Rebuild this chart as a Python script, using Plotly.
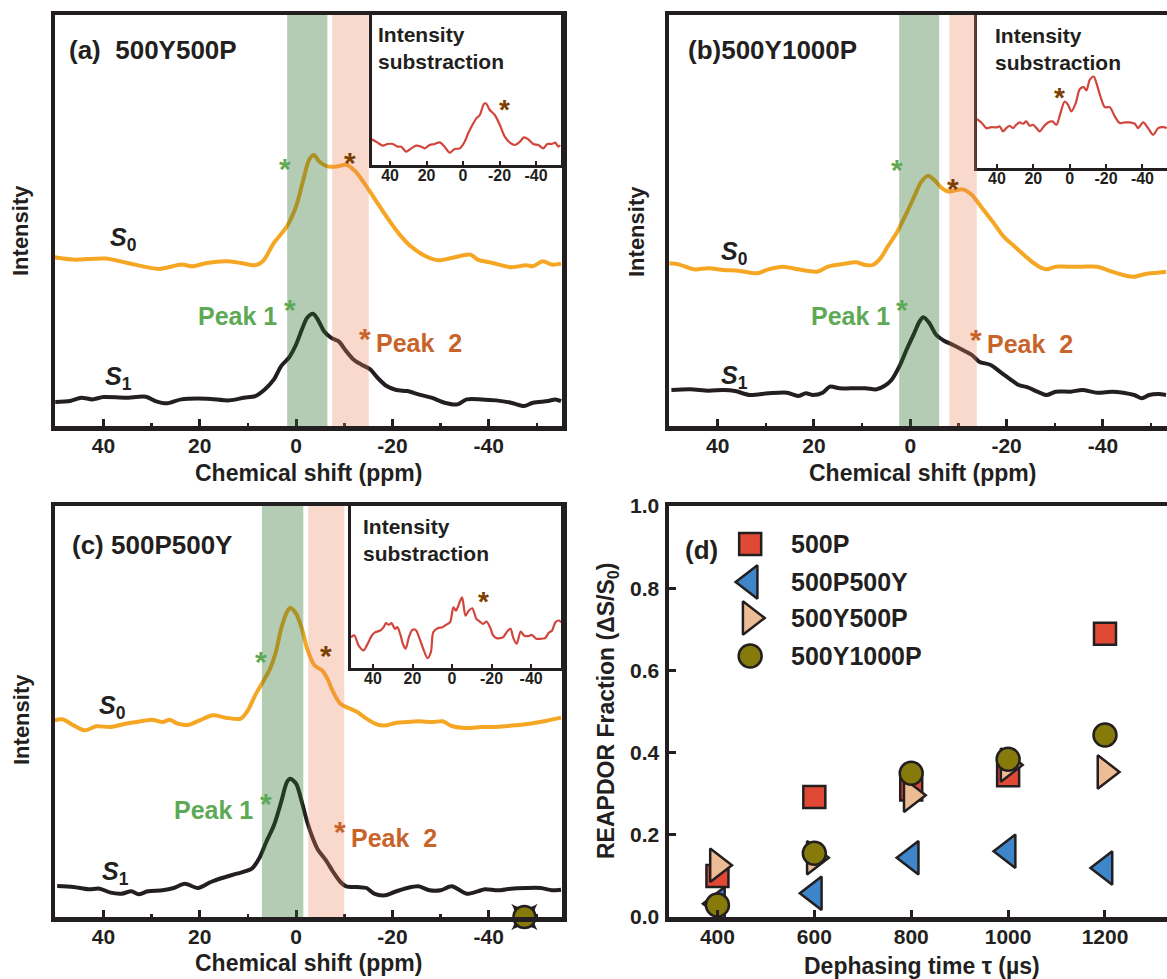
import plotly.graph_objects as go

# ---------------- data ----------------
# panel (a) 500Y500P
a_s0_ppm = [50.2, 46.2, 39.6, 35.0, 28.5, 23.8, 21.5, 18.5, 14.6, 11.5, 8.5, 6.9, 4.6, 1.9, 0.0, -1.5, -2.7, -3.7, -4.8, -6.5,
            -8.5, -10.4, -12.3, -14.6, -16.9, -19.2, -21.5, -23.8, -26.9, -29.6, -32.3, -36.2, -37.7, -40.8, -44.6, -47.7,
            -49.2, -51.2, -53.1, -55.0]
a_s0_int = [50.7, 50.0, 50.3, 49.0, 47.2, 48.5, 48.0, 49.0, 49.5, 49.0, 48.3, 49.5, 55.0, 60.0, 66.0, 74.0, 80.0, 81.4, 79.5, 78.0,
            78.0, 78.5, 76.5, 72.0, 67.0, 62.0, 57.5, 54.0, 51.0, 49.8, 50.5, 51.5, 50.0, 49.0, 47.7, 48.3, 48.0, 49.5, 48.5, 48.8]
a_s1_ppm = [50.0, 46.9, 44.6, 42.3, 40.0, 35.4, 31.2, 29.2, 26.9, 23.8, 18.5, 13.8, 10.8, 8.5, 6.5, 4.6, 3.1, 1.5, 0.0, -1.2,
            -2.3, -3.5, -4.5, -5.8, -7.3, -8.8, -10.4, -11.9, -13.5, -15.4, -16.9, -18.8, -20.8, -23.1, -25.4, -28.1, -30.8,
            -33.5, -35.4, -38.5, -41.5, -44.6, -47.3, -49.2, -52.3, -53.8, -55.0]
a_s1_int = [7.2, 7.5, 8.5, 8.0, 8.7, 8.5, 8.8, 7.5, 6.8, 8.0, 8.2, 7.7, 8.5, 9.0, 11.0, 14.0, 18.0, 20.5, 24.5, 29.0,
            32.5, 33.7, 32.0, 28.5, 26.5, 25.5, 22.5, 20.0, 18.5, 17.0, 14.5, 12.0, 10.8, 10.5, 9.5, 8.5, 7.0, 6.5, 8.0, 8.0,
            7.7, 7.0, 6.0, 7.0, 7.5, 8.0, 7.5]
a_diff_ppm = [50.1, 46.8, 44.0, 41.3, 38.5, 35.8, 33.9, 31.2, 28.4, 25.7, 22.9, 21.1, 18.3, 15.6, 12.8, 10.1, 7.3, 4.6, 1.8, -0.9,
              -2.8, -4.6, -7.3, -9.2, -11.4, -12.5, -14.7, -17.4, -20.2, -22.9, -25.7, -28.4, -31.2, -33.4, -35.8, -38.5,
              -41.3, -44.0, -46.2, -48.6, -50.5, -52.3, -53.2]
a_diff_int = [7.7, 6.7, 5.8, 6.3, 6.3, 5.5, 5.5, 4.0, 5.0, 5.8, 5.5, 5.0, 6.0, 6.3, 6.8, 5.5, 3.7, 4.8, 5.0, 7.0,
              9.5, 11.5, 14.0, 15.0, 18.3, 18.5, 16.5, 15.0, 12.0, 8.5, 6.7, 6.0, 7.0, 8.3, 7.7, 6.3, 6.0, 5.0, 6.3, 6.3,
              6.7, 5.5, 6.0]

# panel (b) 500Y1000P
b_s0_ppm = [50.0, 48.1, 45.0, 41.9, 38.8, 35.7, 31.8, 29.5, 26.4, 23.3, 19.4, 17.1, 14.0, 11.2, 9.3, 7.8, 6.2, 4.7, 2.7, 0.8,
            -0.8, -2.3, -3.7, -5.0, -6.6, -8.1, -9.7, -10.9, -12.8, -14.7, -17.1, -19.4, -21.7, -24.0, -26.4, -28.3, -30.2,
            -32.6, -35.7, -38.8, -41.9, -45.0, -46.5, -48.8, -51.2, -53.1]
b_s0_int = [48.8, 48.5, 47.0, 47.3, 46.8, 46.6, 45.8, 47.0, 47.8, 47.0, 46.3, 47.8, 48.6, 49.1, 48.3, 48.3, 50.3, 53.8, 58.3, 63.8,
            68.8, 73.3, 75.1, 73.8, 71.3, 70.3, 70.8, 71.0, 69.3, 65.8, 61.3, 56.8, 53.8, 50.8, 48.1, 47.0, 47.8, 47.8, 47.8,
            47.8, 46.3, 45.0, 44.8, 45.6, 46.0, 46.3]
b_s1_ppm = [49.6, 45.7, 41.9, 38.8, 36.4, 33.3, 29.5, 25.6, 23.3, 21.7, 20.2, 18.2, 16.7, 14.7, 12.4, 9.3, 7.0, 5.4, 3.9, 2.3,
            0.8, -0.8, -1.9, -2.7, -3.9, -5.4, -7.0, -8.9, -10.9, -12.8, -14.3, -16.7, -18.6, -20.5, -22.5, -24.4, -26.4,
            -28.3, -30.2, -33.3, -35.7, -38.8, -41.9, -44.2, -46.5, -48.1, -49.6, -51.6, -53.1]
b_s1_int = [10.8, 11.0, 10.6, 10.8, 10.5, 9.3, 9.8, 10.0, 9.0, 9.8, 9.3, 10.0, 11.8, 11.3, 11.3, 11.3, 11.0, 12.0, 13.8, 17.8,
            22.8, 27.8, 31.3, 32.6, 31.0, 27.3, 25.6, 24.3, 22.8, 21.3, 19.3, 18.3, 16.3, 14.3, 12.3, 11.6, 10.3, 9.3, 10.3,
            10.3, 10.8, 10.0, 10.3, 10.0, 9.3, 8.3, 9.3, 9.6, 9.3]
b_diff_ppm = [51.0, 48.6, 45.9, 43.1, 40.4, 38.5, 36.7, 34.9, 33.0, 31.2, 29.4, 27.5, 25.7, 23.9, 22.0, 20.2, 18.3, 16.5, 14.3,
              11.9, 9.5, 7.3, 5.1, 2.8, 0.9, -0.9, -3.3, -5.5, -7.7, -9.2, -11.0, -13.2, -14.7, -16.9, -19.3, -22.0, -24.8,
              -27.5, -30.3, -33.0, -35.8, -37.6, -40.4, -43.1, -45.9, -48.6, -51.4, -53.4]
b_diff_int = [14.7, 13.7, 12.0, 12.3, 12.2, 12.5, 11.0, 12.0, 12.7, 12.0, 13.0, 13.7, 13.3, 14.0, 12.7, 13.0, 12.0, 11.0, 12.5,
              13.7, 14.0, 13.0, 16.5, 20.0, 19.0, 17.0, 19.5, 23.7, 24.3, 23.3, 26.5, 27.5, 25.5, 21.5, 18.3, 18.3, 15.5,
              13.5, 13.7, 13.7, 13.3, 12.0, 13.7, 12.0, 10.0, 12.0, 12.3, 12.0]

# panel (c) 500P500Y
c_s0_ppm = [50.2, 48.5, 46.2, 43.8, 41.5, 38.5, 35.4, 33.1, 30.0, 27.7, 26.2, 24.6, 22.3, 20.0, 17.3, 14.6, 11.5, 10.0, 8.5, 6.9,
            5.4, 4.2, 3.1, 1.9, 1.2, 0.0, -1.2, -2.3, -3.8, -5.4, -6.5, -7.7, -9.2, -11.2, -12.7, -14.6, -16.9, -18.8, -20.8,
            -23.1, -25.4, -28.5, -30.4, -32.3, -35.4, -38.5, -41.5, -45.4, -48.5, -51.5, -55.0]
c_s0_int = [59.0, 59.3, 57.5, 56.0, 57.2, 57.0, 58.0, 58.5, 59.2, 58.5, 59.2, 58.0, 57.7, 59.0, 60.5, 59.8, 59.5, 62.0, 66.5, 70.5,
            74.5, 79.5, 86.5, 91.5, 92.7, 91.0, 86.5, 80.5, 75.5, 74.0, 71.5, 67.5, 64.0, 62.5, 61.5, 59.5, 57.7, 57.5, 58.3,
            58.5, 58.7, 58.5, 58.7, 57.3, 56.7, 57.0, 57.0, 57.5, 58.0, 58.7, 59.8]
c_s1_ppm = [49.6, 46.2, 43.1, 40.8, 38.5, 36.2, 34.2, 32.7, 30.8, 27.7, 25.4, 23.1, 20.4, 17.7, 15.4, 12.3, 9.2, 7.7, 6.2, 4.6,
            3.1, 1.9, 1.2, 0.0, -1.2, -2.3, -3.5, -4.6, -6.2, -7.7, -9.2, -10.4, -12.7, -14.6, -16.2, -18.5, -20.4, -23.1,
            -25.4, -27.7, -30.0, -32.3, -35.4, -37.7, -39.2, -41.9, -44.6, -47.7, -50.8, -53.1, -55.0]
c_s1_int = [9.3, 9.0, 8.3, 8.5, 7.3, 7.0, 7.7, 6.8, 7.7, 8.0, 8.7, 10.0, 8.7, 10.5, 11.7, 13.0, 14.5, 17.5, 22.5, 27.5,
            34.5, 40.5, 41.5, 40.0, 34.5, 28.5, 23.5, 20.0, 17.0, 13.5, 10.5, 9.2, 9.0, 8.7, 7.0, 6.5, 7.5, 8.7, 9.2, 8.0,
            8.0, 9.2, 7.0, 7.7, 8.3, 8.0, 8.5, 8.7, 8.7, 8.0, 8.2]
c_diff_ppm = [51.1, 49.4, 47.3, 44.8, 43.1, 40.5, 38.8, 36.3, 34.6, 33.4, 32.0, 30.6, 28.9, 27.7, 26.0, 24.9, 23.5, 21.8, 20.1,
              18.4, 16.7, 14.6, 12.4, 10.7, 9.5, 7.3, 4.8, 3.1, 1.0, -0.7, -2.0, -3.8, -5.1, -6.8, -8.5, -10.2, -12.3, -14.0,
              -15.7, -17.4, -19.4, -20.8, -22.5, -24.2, -25.9, -27.6, -29.6, -31.0, -32.7, -34.7, -36.4, -38.6, -40.3,
              -42.6, -44.6, -47.1, -48.9, -50.6, -52.3, -54.0, -55.1]
c_diff_int = [9.3, 9.8, 6.8, 5.3, 6.8, 9.8, 10.8, 11.3, 12.3, 13.5, 13.0, 13.5, 11.8, 12.3, 9.8, 7.3, 5.8, 9.3, 11.5, 11.5,
              9.3, 5.8, 3.0, 4.8, 10.8, 12.0, 12.3, 13.0, 13.8, 18.3, 17.3, 19.8, 21.3, 15.8, 17.3, 18.0, 14.8, 14.0, 13.3,
              14.0, 12.0, 9.8, 9.0, 9.0, 9.3, 10.8, 11.8, 9.0, 7.3, 11.0, 9.8, 9.6, 10.0, 8.8, 8.8, 9.0, 10.6, 11.3, 13.8,
              14.3, 13.8]

# peak integration windows (ppm): [Peak 1 band, Peak 2 band]
a_bands = [(1.85, -6.5), (-7.5, -15.1)]
b_bands = [(2.3, -6.0), (-8.1, -13.8)]
c_bands = [(7.1, -1.5), (-2.5, -10.0)]

# panel (d) REAPDOR fractions
tau_us = [400, 600, 800, 1000, 1200]
frac_500P = [0.100, 0.292, 0.310, 0.345, 0.689]
frac_500P500Y = [0.032, 0.058, 0.144, 0.160, 0.119]
frac_500Y500P = [0.126, 0.144, 0.296, 0.370, 0.353]
frac_500Y1000P = [0.029, 0.155, 0.350, 0.384, 0.443]
series_names = ["500P", "500P500Y", "500Y500P", "500Y1000P"]

# stray marker seen on panel (c) axis
stray_ppm = [-47.4]
stray_int = [0.0]

main_ticks = [40, 20, 0, -20, -40]
main_tick_text = ["40", "20", "0", "-20", "-40"]
minor_ticks = [30, 10, -10, -30, -50]
d_xticks = [400, 600, 800, 1000, 1200]
d_yticks = [0.0, 0.2, 0.4, 0.6, 0.8, 1.0]

# ---------------- styling ----------------
W, H = 1167, 979
FONT = "Liberation Sans, Arial, sans-serif"
INK = "#231f20"
ORANGE = "#f5a623"
RED_LINE = "#d2453c"
GREEN_T = "#5ea955"
ORANGE_T = "#c8632a"
BROWN = "#7b3f00"
GREEN_BAND = "rgba(40,110,40,0.35)"
PINK_BAND = "rgba(240,130,90,0.30)"
C_SQ, C_BL, C_TAN, C_OL = "#e04a35", "#3e86c9", "#ecbd95", "#857a0a"


def px(x):
    return x / W


def py(y):
    return 1 - y / H


def bfont(size, color=INK):
    return dict(family=FONT, size=size, color=color, weight="bold")


fig = go.Figure()


def spec(xs, ys, ax, color, width):
    fig.add_trace(go.Scatter(x=xs, y=ys, mode="lines", xaxis="x" + ax, yaxis="y" + ax,
                             line=dict(color=color, width=width, shape="spline", smoothing=0.8),
                             hoverinfo="skip", showlegend=False))


spec(a_s0_ppm, a_s0_int, "", ORANGE, 4)
spec(a_s1_ppm, a_s1_int, "", INK, 4)
spec(b_s0_ppm, b_s0_int, "2", ORANGE, 4)
spec(b_s1_ppm, b_s1_int, "2", INK, 4)
spec(c_s0_ppm, c_s0_int, "3", ORANGE, 4)
spec(c_s1_ppm, c_s1_int, "3", INK, 4)
spec(a_diff_ppm, a_diff_int, "5", RED_LINE, 2.2)
spec(b_diff_ppm, b_diff_int, "6", RED_LINE, 2.2)
spec(c_diff_ppm, c_diff_int, "7", RED_LINE, 2.2)

# stray marker on (c)
fig.add_trace(go.Scatter(x=stray_ppm, y=stray_int, mode="markers", xaxis="x3", yaxis="y3", cliponaxis=False,
                         marker=dict(symbol="star-square", size=24, color=INK), hoverinfo="skip", showlegend=False))
fig.add_trace(go.Scatter(x=stray_ppm, y=stray_int, mode="markers", xaxis="x3", yaxis="y3", cliponaxis=False,
                         marker=dict(symbol="circle", size=22, color=C_OL, line=dict(color=INK, width=2.5)),
                         hoverinfo="skip", showlegend=False))

# panel (d)
d_series = [(frac_500P, "square", 22, C_SQ), (frac_500P500Y, "triangle-left", 29, C_BL),
            (frac_500Y500P, "triangle-right", 29, C_TAN), (frac_500Y1000P, "circle", 23, C_OL)]
for (vals, sym, sz, col), name in zip(d_series, series_names):
    fig.add_trace(go.Scatter(x=tau_us, y=vals, mode="markers", xaxis="x4", yaxis="y4", name=name, cliponaxis=False,
                             marker=dict(symbol=sym, size=sz, color=col, line=dict(color=INK, width=2.5)),
                             showlegend=False))

# hand-made legend for (d) on an overlay axis (0..1 in both directions)
LEG_X = 0.163
LEG_ROWS = [544, 582, 618, 656]
for (vals, sym, sz, col), name, row in zip(d_series, series_names, LEG_ROWS):
    fig.add_trace(go.Scatter(x=[LEG_X], y=[(917 - row) / 411], mode="markers", xaxis="x8", yaxis="y8",
                             marker=dict(symbol=sym, size=sz, color=col, line=dict(color=INK, width=2.5)),
                             hoverinfo="skip", showlegend=False, cliponaxis=False))


# ---------------- axes ----------------
def spec_x(domain, rng, anchor):
    return dict(domain=domain, range=rng, autorange=False, anchor=anchor, showline=True, linewidth=4.5,
                linecolor=INK, mirror=True, ticks="inside", ticklen=7, tickwidth=3, tickcolor=INK,
                tickmode="array", tickvals=main_ticks, ticktext=main_tick_text, tickfont=bfont(21),
                minor=dict(ticks="inside", ticklen=3, tickwidth=2.5, tickcolor=INK, tickvals=minor_ticks),
                showgrid=False, zeroline=False, ticklabelstandoff=-3, automargin=False)


def spec_y(domain, top, anchor, mirror=True, lw=4.5):
    return dict(domain=domain, range=[0, top], autorange=False, anchor=anchor, showline=True, linewidth=lw,
                linecolor=INK, mirror=mirror, ticks="", showticklabels=False, showgrid=False, zeroline=False,
                automargin=False)


def inset_x(domain, rng, anchor):
    return dict(domain=domain, range=rng, autorange=False, anchor=anchor, showline=True, linewidth=3,
                linecolor=INK, mirror=True, ticks="inside", ticklen=4, tickwidth=2, tickcolor=INK,
                tickmode="array", tickvals=main_ticks, ticktext=main_tick_text, tickfont=bfont(16),
                showgrid=False, zeroline=False, ticklabelstandoff=-6, automargin=False)


top_dom = [py(426), py(15)]
bot_dom = [py(917), py(506)]
left_dom = [px(55), px(562)]
right_dom = [px(669), 1.0]

fig.update_layout(
    xaxis=spec_x(left_dom, [50.05, -55.2], "y"),
    yaxis=spec_y(top_dom, 123.5, "x"),
    xaxis2=spec_x(right_dom, [50.1, -53.3], "y2"),
    yaxis2=spec_y(top_dom, 123.3, "x2", mirror=False),
    xaxis3=spec_x(left_dom, [50.05, -55.2], "y3"),
    yaxis3=spec_y(bot_dom, 123.3, "x3"),
    xaxis4=dict(domain=right_dom, range=[300, 1328], autorange=False, anchor="y4", showline=True, linewidth=4.5,
                linecolor=INK, mirror=True, ticks="inside", ticklen=7, tickwidth=3, tickcolor=INK,
                tickmode="array", tickvals=d_xticks, ticktext=[str(v) for v in d_xticks], tickfont=bfont(21),
                showgrid=False, zeroline=False, ticklabelstandoff=-3, automargin=False),
    yaxis4=dict(domain=bot_dom, range=[0, 1.0], autorange=False, anchor="x4", showline=True, linewidth=4.5,
                linecolor=INK, mirror=False, ticks="inside", ticklen=7, tickwidth=3, tickcolor=INK,
                tickmode="array", tickvals=d_yticks, ticktext=["%.1f" % v for v in d_yticks], tickfont=bfont(21),
                showgrid=False, zeroline=False, ticklabelstandoff=1, automargin=False),
    xaxis5=inset_x([px(372), px(561)], [49.9, -53.7], "y5"),
    yaxis5=spec_y([py(165), py(15)], 45, "x5", lw=3),
    xaxis6=inset_x([px(977), 1.0], [51.0, -53.5], "y6"),
    yaxis6=spec_y([py(168), py(15)], 46, "x6", mirror=False, lw=3),
    xaxis7=inset_x([px(351), px(561)], [51.1, -55.1], "y7"),
    yaxis7=spec_y([py(668), py(506)], 48.8, "x7", lw=3),
    xaxis8=dict(domain=right_dom, range=[0, 1], visible=False, anchor="y8", fixedrange=True, automargin=False),
    yaxis8=dict(domain=bot_dom, range=[0, 1], visible=False, anchor="x8", fixedrange=True, automargin=False),
)

# ---------------- bands ----------------
shapes = []
for ax, bands in (("", a_bands), ("2", b_bands), ("3", c_bands)):
    for (x0, x1), col in zip(bands, (GREEN_BAND, PINK_BAND)):
        shapes.append(dict(type="rect", xref="x" + ax, yref="y" + ax + " domain", x0=x0, x1=x1, y0=0, y1=1,
                           fillcolor=col, line=dict(width=0), layer="above"))
fig.update_layout(shapes=shapes)

# ---------------- text ----------------
ann = []


def A(text, x, y, xref="paper", yref="paper", size=22, color=INK, xa="center", ya="middle", angle=0, ys=0,
      align="center"):
    ann.append(dict(text=text, x=x, y=y, xref=xref, yref=yref, showarrow=False, font=bfont(size, color),
                    xanchor=xa, yanchor=ya, textangle=angle, yshift=ys, align=align))


# panel titles
A("(a)  500Y500P", px(67), py(50), size=26, xa="left")
A("(b)500Y1000P", px(686), py(50), size=26, xa="left")
A("(c) 500P500Y", px(70), py(545), size=26, xa="left")
A("(d)", px(683), py(550), size=26, xa="left")

# axis titles
A("Chemical shift (ppm)", px(308), py(473), size=23)
A("Chemical shift (ppm)", px(922), py(473), size=23)
A("Chemical shift (ppm)", px(308), py(963), size=23)
A("Dephasing time \u03c4 (\u00b5s)", px(922), py(966), size=23)
A("Intensity", px(20), py(231), size=22, angle=-90)
A("Intensity", px(636), py(231), size=22, angle=-90)
A("Intensity", px(21), py(720), size=22, angle=-90)
A("REAPDOR Fraction (\u0394S/S<sub>0</sub>)", px(607), py(711), size=23, angle=-90)

# inset titles
A("Intensity<br>substraction", px(376), py(21), size=21, xa="left", ya="top", align="left")
A("Intensity<br>substraction", px(993), py(22), size=21, xa="left", ya="top", align="left")
A("Intensity<br>substraction", px(361), py(513), size=21, xa="left", ya="top", align="left")

# spectra labels
for ax, s0, s1 in (("", (35.8, 56.3), (36.8, 14.3)), ("2", (36.4, 51.8), (36.4, 14.8)), ("3", (38.1, 63.0), (37.5, 13.3))):
    A("<i>S</i><sub>0</sub>", s0[0], s0[1], xref="x" + ax, yref="y" + ax, size=25)
    A("<i>S</i><sub>1</sub>", s1[0], s1[1], xref="x" + ax, yref="y" + ax, size=25)

# stars and peak labels per panel
panel_marks = {
    "": dict(g=(2.3, 79.7), b=(-11.2, 81.5), p1=(3.5, 33.0), s1=(1.2, 37.5), p2=(-16.2, 24.8), s2=(-14.2, 28.7)),
    "2": dict(g=(2.7, 79.3), b=(-8.8, 73.8), p1=(3.9, 33.0), s1=(1.7, 37.3), p2=(-15.5, 24.5), s2=(-13.6, 28.3)),
    "3": dict(g=(7.3, 79.0), b=(-6.2, 81.0), p1=(8.5, 32.2), s1=(6.3, 36.5), p2=(-10.9, 23.7), s2=(-9.1, 28.0)),
}
for ax, m in panel_marks.items():
    xr, yr = "x" + ax, "y" + ax
    A("*", m["g"][0], m["g"][1], xref=xr, yref=yr, size=30, color=GREEN_T, ys=-8)
    A("*", m["b"][0], m["b"][1], xref=xr, yref=yr, size=30, color=BROWN, ys=-8)
    A("Peak 1", m["p1"][0], m["p1"][1], xref=xr, yref=yr, size=25, color=GREEN_T, xa="right")
    A("*", m["s1"][0], m["s1"][1], xref=xr, yref=yr, size=30, color=GREEN_T, ys=-8)
    A("Peak  2", m["p2"][0], m["p2"][1], xref=xr, yref=yr, size=25, color=ORANGE_T, xa="left")
    A("*", m["s2"][0], m["s2"][1], xref=xr, yref=yr, size=30, color=ORANGE_T, ys=-8)

# inset stars
A("*", -22.9, 19.0, xref="x5", yref="y5", size=28, color=BROWN, ys=-8)
A("*", 5.5, 23.7, xref="x6", yref="y6", size=28, color=BROWN, ys=-8)
A("*", -15.7, 22.3, xref="x7", yref="y7", size=28, color=BROWN, ys=-8)

# legend text
for name, row in zip(series_names, LEG_ROWS):
    A(name, px(789), py(row), size=25, xa="left")

fig.update_layout(annotations=ann, width=W, height=H, margin=dict(l=0, r=0, t=0, b=0, pad=0),
                  paper_bgcolor="white", plot_bgcolor="rgba(0,0,0,0)", showlegend=False,
                  font=dict(family=FONT, color=INK))

fig.write_html("out.html", config={"displayModeBar": False, "staticPlot": True},
               post_script="document.body.style.margin='0px';")
